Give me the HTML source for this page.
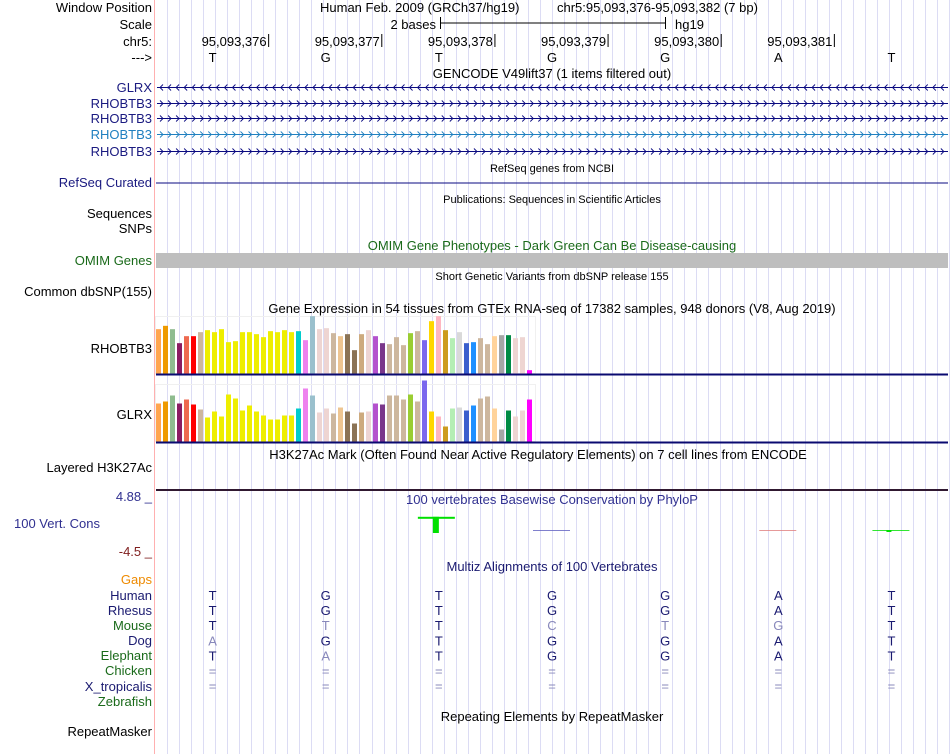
<!DOCTYPE html>
<html><head><meta charset="utf-8">
<style>
html,body{margin:0;padding:0;background:#fff;}
svg{display:block;font-family:"Liberation Sans",sans-serif;}
.l{font-size:13px;text-anchor:end;}
.c{font-size:13px;text-anchor:middle;}
.s{font-size:11px;text-anchor:middle;}
</style></head>
<body>
<svg id="browser" width="950" height="754" viewBox="0 0 950 754" xmlns="http://www.w3.org/2000/svg">
<g id="grid"></g>
<line x1="154.5" y1="0" x2="154.5" y2="754" stroke="#ffb0b0" stroke-width="1"/>

<g>
<text class="l" x="152" y="12">Window Position</text>
<text class="l" x="152" y="29">Scale</text>
<text class="l" x="152" y="46">chr5:</text>
<text class="l" x="152" y="62">---&gt;</text>
<text class="l" x="152" y="92" fill="#1a1a80">GLRX</text>
<text class="l" x="152" y="108" fill="#1a1a80">RHOBTB3</text>
<text class="l" x="152" y="123" fill="#1a1a80">RHOBTB3</text>
<text class="l" x="152" y="139" fill="#2080c0">RHOBTB3</text>
<text class="l" x="152" y="156" fill="#1a1a80">RHOBTB3</text>
<text class="l" x="152" y="187" fill="#1a1a80">RefSeq Curated</text>
<text class="l" x="152" y="218">Sequences</text>
<text class="l" x="152" y="233">SNPs</text>
<text class="l" x="152" y="265" fill="#1a6a1a">OMIM Genes</text>
<text class="l" x="152" y="296">Common dbSNP(155)</text>
<text class="l" x="152" y="353">RHOBTB3</text>
<text class="l" x="152" y="419">GLRX</text>
<text class="l" x="152" y="472">Layered H3K27Ac</text>
<text class="l" x="152" y="501" fill="#303090">4.88 _</text>
<text class="l" x="100" y="528" fill="#303090">100 Vert. Cons</text>
<text class="l" x="152" y="556" fill="#802020">-4.5 _</text>
<text class="l" x="152" y="584" fill="#ee8a00">Gaps</text>
<text class="l" x="152" y="600" fill="#1a1a70">Human</text>
<text class="l" x="152" y="615" fill="#1a1a70">Rhesus</text>
<text class="l" x="152" y="630" fill="#1a6a1a">Mouse</text>
<text class="l" x="152" y="645" fill="#1a1a70">Dog</text>
<text class="l" x="152" y="660" fill="#1a6a1a">Elephant</text>
<text class="l" x="152" y="675" fill="#1a6a1a">Chicken</text>
<text class="l" x="152" y="691" fill="#1a1a70">X_tropicalis</text>
<text class="l" x="152" y="706" fill="#1a6a1a">Zebrafish</text>
<text class="l" x="152" y="736">RepeatMasker</text>
</g>

<g>
<text x="320" y="12" font-size="13">Human Feb. 2009 (GRCh37/hg19)</text>
<text x="557" y="12" font-size="13">chr5:95,093,376-95,093,382 (7 bp)</text>
<text x="436" y="29" font-size="13" text-anchor="end">2 bases</text>
<line x1="440" y1="23" x2="665" y2="23" stroke="#000"/>
<line x1="440.5" y1="17" x2="440.5" y2="29" stroke="#000"/>
<line x1="665.5" y1="17" x2="665.5" y2="29" stroke="#000"/>
<text x="675" y="29" font-size="13">hg19</text>
<text class="c" x="552" y="78">GENCODE V49lift37 (1 items filtered out)</text>
<text class="s" x="552" y="172">RefSeq genes from NCBI</text>
<text class="s" x="552" y="203">Publications: Sequences in Scientific Articles</text>
<text class="c" x="552" y="250" fill="#1a6a1a">OMIM Gene Phenotypes - Dark Green Can Be Disease-causing</text>
<text class="s" x="552" y="280">Short Genetic Variants from dbSNP release 155</text>
<text class="c" x="552" y="313">Gene Expression in 54 tissues from GTEx RNA-seq of 17382 samples, 948 donors (V8, Aug 2019)</text>
<text class="c" x="538" y="459">H3K27Ac Mark (Often Found Near Active Regulatory Elements) on 7 cell lines from ENCODE</text>
<text class="c" x="552" y="504" fill="#303090">100 vertebrates Basewise Conservation by PhyloP</text>
<text class="c" x="552" y="571" fill="#1a1a70">Multiz Alignments of 100 Vertebrates</text>
<text class="c" x="552" y="721">Repeating Elements by RepeatMasker</text>
</g>

<g id="ruler"></g>
<g id="genes"></g>
<line x1="156" y1="183" x2="948" y2="183" stroke="#0a0a80"/>
<rect x="156" y="253" width="792" height="15" fill="#bebebe"/>
<g id="gtex"></g>
<line x1="156" y1="374.5" x2="948" y2="374.5" stroke="#0a0a70" stroke-width="2"/>
<line x1="156" y1="442.5" x2="948" y2="442.5" stroke="#0a0a70" stroke-width="2"/>
<line x1="156" y1="490" x2="948" y2="490" stroke="#301830" stroke-width="2"/>
<g id="cons"></g>
<g id="multiz"></g>

<script>
const bases = ['T','G','T','G','G','A','T'];
const positions = ['95,093,376','95,093,377','95,093,378','95,093,379','95,093,380','95,093,381'];
const gtexRhobtb3 = [133,143,133,91,112,112,124,130,124,133,94,97,124,124,118,109,127,124,130,124,127,100,172,133,136,121,112,118,70,118,130,112,91,88,109,85,121,127,100,157,172,130,106,124,91,94,106,88,112,115,115,106,109,10];
const gtexGlrx = [114,120,138,114,126,111,96,72,90,75,141,129,93,108,90,78,66,66,78,78,99,159,138,87,99,84,102,90,54,87,90,114,111,138,138,126,141,120,183,90,75,45,99,102,93,108,129,135,99,36,93,75,93,126];
const tissueColors = ['#FFA54F','#EE9A00','#8FBC8F','#8B1C62','#EE6A50','#FF0000','#CDB79E','#EEEE00','#EEEE00','#EEEE00','#EEEE00','#EEEE00','#EEEE00','#EEEE00','#EEEE00','#EEEE00','#EEEE00','#EEEE00','#EEEE00','#EEEE00','#00CDCD','#EE82EE','#9AC0CD','#EED5D2','#EED5D2','#CDB79E','#EEC591','#8B7355','#8B7355','#CDAA7D','#EED5D2','#B452CD','#7A378B','#CDB79E','#CDB79E','#CDB79E','#9ACD32','#CDB79E','#7A67EE','#FFD700','#FFB6C1','#CD9B1D','#B4EEB4','#D9D9D9','#3A5FCD','#1E90FF','#CDB79E','#CDB79E','#FFD39B','#A6A6A6','#008B45','#EED5D2','#EED5D2','#FF00FF'];
const consScores = [0, 0, 2.2, -0.1, 0, -0.15, 0.1];
const species = ['Human','Rhesus','Mouse','Dog','Elephant','Chicken','X_tropicalis'];
const alignRows = [
 ['T','G','T','G','G','A','T'],
 ['T','G','T','G','G','A','T'],
 ['T','t','T','c','t','g','T'],
 ['a','G','T','G','G','A','T'],
 ['T','a','T','G','G','A','T'],
 ['=','=','=','=','=','=','='],
 ['=','=','=','=','=','=','=']];

const NS='http://www.w3.org/2000/svg';
function mk(tag, attrs, parent, txt){const e=document.createElementNS(NS,tag);for(const k in attrs)e.setAttribute(k,attrs[k]);if(txt!==undefined)e.textContent=txt;parent.appendChild(e);return e;}
const X0=156, BW=792/7;
const xBase = i => X0 + BW*(i+0.5);

const grid=document.getElementById('grid');
for(let x=167;x<950;x+=12.03){
  const l=mk('line',{x1:Math.round(x)+0.5,y1:0,x2:Math.round(x)+0.5,y2:754,stroke:'#dcdcf4'},grid);
  
  
}
const ruler=document.getElementById('ruler');
positions.forEach((p,i)=>{
  const tx=X0+BW*(i+1)-0.5;
  const t=mk('text',{x:tx-2,y:46,'font-size':13,'text-anchor':'end'},ruler,p);
  
  
  const l=mk('line',{x1:tx,y1:34,x2:tx,y2:47,stroke:'#000'},ruler);
  
  
});
bases.forEach((b,i)=>{
  const t=mk('text',{x:xBase(i),y:62,'font-size':13,'text-anchor':'middle'},ruler,b);
  
  
});
const genes=document.getElementById('genes');
const geneRows=[{y:87,dir:-1,c:'#0a0a80'},{y:103,dir:1,c:'#0a0a80'},{y:118,dir:1,c:'#0a0a80'},{y:134,dir:1,c:'#2080c0'},{y:151,dir:1,c:'#0a0a80'}];
geneRows.forEach(g=>{
  const l=mk('line',{x1:157,y1:g.y+0.5,x2:948,y2:g.y+0.5,stroke:g.c},genes);
  
  
  let d='';
  for(let x=160;x<946;x+=8.05){ if(g.dir<0) d+=`M${x+3},${g.y-2.5}L${x},${g.y+0.5}L${x+3},${g.y+3.5}`; else d+=`M${x},${g.y-2.5}L${x+3},${g.y+0.5}L${x},${g.y+3.5}`;}
  const p=mk('path',{d:d,stroke:g.c,fill:'none','stroke-width':0.9},genes);
  
  
});
const gtex=document.getElementById('gtex');
function drawGtex(vals,base,name){
  const f=mk('rect',{x:155.5,y:base-57,width:380,height:57,fill:'none',stroke:'#f0f0f0'},gtex);
  
  
  vals.forEach((v,i)=>{
    const h=v/3;
    const r=mk('rect',{x:156+i*7,y:base-h,width:5,height:h,fill:tissueColors[i]},gtex);
    
    
  });
}
drawGtex(gtexRhobtb3,373.5,'gtex-rhobtb3');
drawGtex(gtexGlrx,441.5,'gtex-glrx');
const cons=document.getElementById('cons');
const consZero=530, consScale=6;
consScores.forEach((s,i)=>{
  if(s===0) return;
  const x=xBase(i);
  const col = s>0 ? '#00e000' : (i===5?'#e08080':'#6060c0');
  if(s>1){
    const r1=mk('rect',{x:x-21,y:consZero-s*consScale,width:37,height:2,fill:col},cons);
    
    
    const r2=mk('rect',{x:x-6,y:consZero-s*consScale,width:6,height:s*consScale+3,fill:col},cons);
    
    
  } else {
    const r=mk('rect',{x:x-19,y:consZero,width:37,height:1,fill:col,opacity:0.8},cons);
    
    
    if(s>0){
      const r2=mk('rect',{x:x-5,y:consZero,width:5,height:2,fill:col},cons);
      
      
    }
  }
});
const mz=document.getElementById('multiz');
alignRows.forEach((row,r)=>{
  row.forEach((b,i)=>{
    const weak = b===b.toLowerCase() || b==='=';
    const t=mk('text',{x:xBase(i),y:600+r*15.1,'font-size':13,'text-anchor':'middle',fill: weak?'#8888bb':'#1a1a70'},mz,b.toUpperCase());
    
    
  });
});
</script>
</svg>
</body></html>
